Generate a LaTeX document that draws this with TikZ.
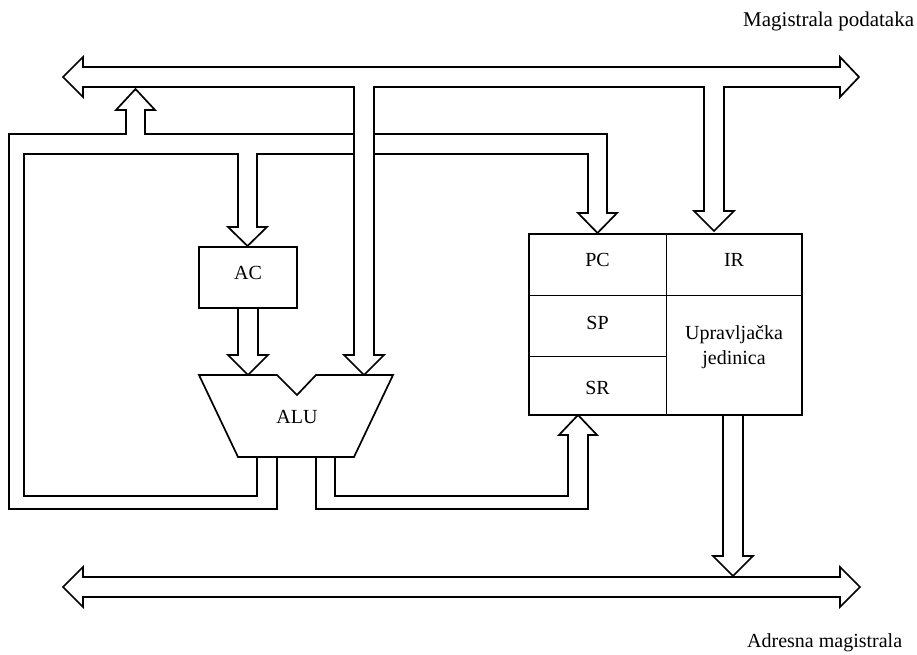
\documentclass[tikz,border=0pt]{standalone}
\usepackage{fontspec}
\setmainfont{Liberation Serif}
\begin{document}
\begin{tikzpicture}[x=1pt,y=-1pt,
  wire/.style={line width=1.7pt, line join=miter, miter limit=10},
  thinline/.style={line width=0.9pt},
  lbl/.style={font=\fontsize{20}{25}\selectfont, inner sep=0pt},
  buslbl/.style={font=\fontsize{21}{25}\selectfont, inner sep=0pt}]
\useasboundingbox (0,0) rectangle (917,655);
% ALU -> feedback loops, up to data bus, to AC and to PC
\draw[wire] (277,457)--(277,509)--(9,509)--(9,134)--(126,134)--(126,110)--(116,110)--(135.5,89)--(155,110)--(145,110)--(145,134)--(607,134)--(607,213)--(617,213)--(597.5,233)--(578,213)--(588,213)--(588,154)--(257,154)--(257,227)--(267,227)--(247.5,246)--(228,227)--(238,227)--(238,154)--(24,154)--(24,496)--(257,496)--(257,457);
% ALU -> SR
\draw[wire] (316,457)--(316,509)--(588,509)--(588,435)--(597,435)--(578,415)--(559,435)--(568,435)--(568,496)--(335,496)--(335,457);
% data bus with its branches to IR and to ALU
\draw[wire, fill=white] (354,87)--(83,87)--(83,97)--(63,77)--(83,57)--(83,67)--(840,67)--(840,57)--(859,77)--(840,97)--(840,87)--(724,87)--(724,211)--(734,211)--(714,231)--(694,211)--(704,211)--(704,87)--(374,87)--(374,355)--(384,355)--(364,375)--(344,355)--(354,355)--cycle;
% address bus
\draw[wire] (83,577)--(840,577)--(840,567)--(860,587)--(840,607)--(840,597)--(83,597)--(83,607)--(63,587)--(83,567)--cycle;
% IR/control unit -> address bus
\draw[wire] (723,415)--(723,556)--(713,556)--(733,576)--(753,556)--(743,556)--(743,415);
% AC -> ALU
\draw[wire] (238,308)--(238,355)--(228,355)--(248,375)--(268,355)--(258,355)--(258,308);
% AC
\node[wire, draw, minimum width=98pt, minimum height=61pt, inner sep=0pt] (ac) at (248,277.5) {};
\node[lbl] (aclbl) at (248,272.5) {AC};
% ALU
\draw[wire] (199,375)--(277,375)--(297,395)--(316,375)--(393,375)--(354,457)--(238,457)--cycle;
\node[lbl] (alu) at (297,417) {ALU};
% register block
\node[wire, draw, minimum width=273pt, minimum height=181pt, inner sep=0pt] (reg) at (665.5,324.5) {};
\draw[thinline] (666,234)--(666,415);
\draw[thinline] (529,295)--(802,295);
\draw[thinline] (529,356)--(666,356);
\node[lbl] (pc) at (597.5,259.5) {PC};
\node[lbl] (ir) at (734,259.5) {IR};
\node[lbl] (sp) at (597.5,323) {SP};
\node[lbl] (sr) at (597.5,388) {SR};
\node[lbl, align=center] (cu) at (734,347) {Upravljačka\\jedinica};
% bus labels
\node[buslbl, anchor=base west] (db) at (743,27) {Magistrala podataka};
\node[lbl, anchor=base west] (ab) at (747,647) {Adresna magistrala};
\end{tikzpicture}
\end{document}
